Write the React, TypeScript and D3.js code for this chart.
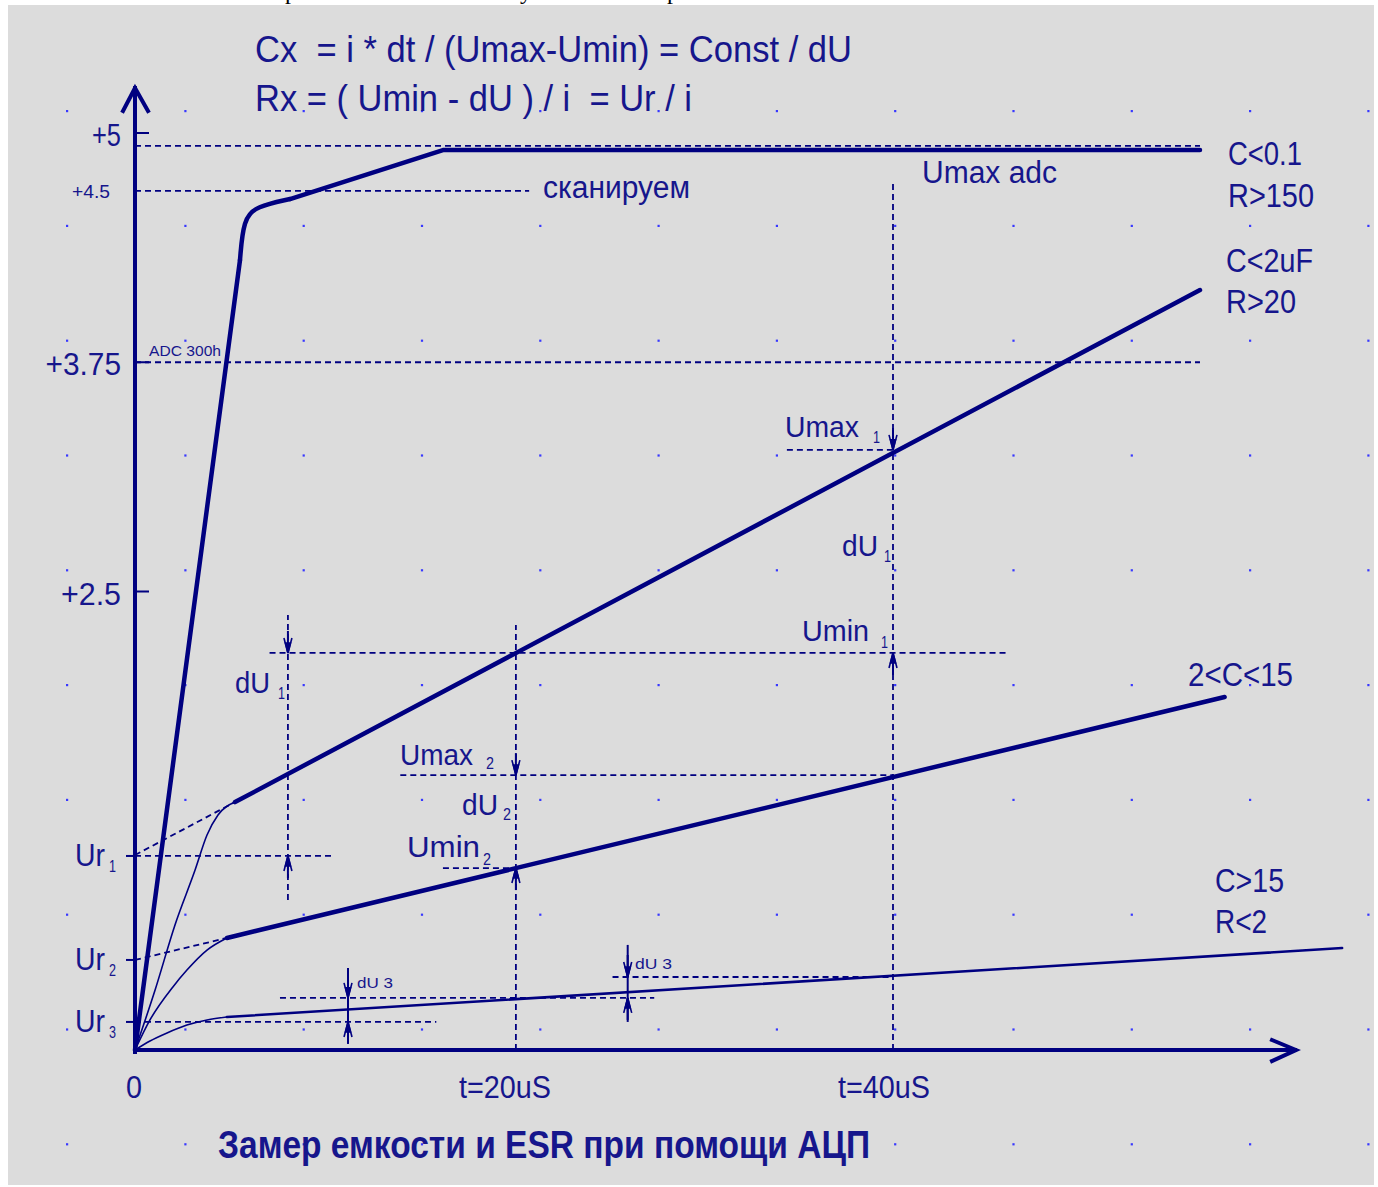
import React from "react";
import * as d3 from "d3";

// time in uS, voltage in V
const timeTicks = [0, 20, 40];
const timeLabels = ["0", "t=20uS", "t=40uS"];
const voltTicks = [5, 3.75, 2.5];
const voltLabels = ["+5", "+3.75", "+2.5"];
const urLevels = [1.058, 0.491, 0.153];
const urSubs = ["1", "2", "3"];

// C<0.1 R>150 : runs into Umax adc
const riseSmallC: [number, number][] = [[0, 0], [5.54, 4.307]];
const kneeSmallC: [number, number][] = [[5.54, 4.307], [5.72, 4.53], [6.4, 4.6], [8.18, 4.64]];
const topSmallC: [number, number][] = [[8.18, 4.64], [16.25, 4.907], [56.2, 4.907]];
// C<2uF R>20
const riseC2: [number, number][] = [
  [0, 0], [1.06, 0.327], [2.11, 0.682], [3.17, 0.981], [3.8, 1.172], [4.38, 1.281], [5.28, 1.352],
];
const lineC2: [number, number][] = [[5.28, 1.352], [56.2, 4.144]];
const extC2: [number, number][] = [[0, 1.063], [5.28, 1.352]];
// 2<C<15
const riseC15: [number, number][] = [
  [0, 0], [0.79, 0.164], [2.0, 0.344], [2.74, 0.436], [3.8, 0.545], [4.85, 0.611],
];
const lineC15: [number, number][] = [[4.85, 0.611], [57.5, 1.925]];
const extC15: [number, number][] = [[0, 0.491], [4.85, 0.611]];
// C>15 R<2
const riseBig: [number, number][] = [
  [0, 0], [0.79, 0.049], [1.69, 0.093], [2.74, 0.136], [3.8, 0.164], [4.85, 0.18],
];
const lineBig: [number, number][] = [[4.85, 0.18], [63.7, 0.556]];

// dashed horizontal guides: [level, from t, to t]
const hGuides: [number, number, number][] = [
  [4.93, 0, 56.2],
  [4.684, 0, 20.8],
  [3.75, 0, 56.2],
  [3.272, 34.4, 40],
  [2.165, 7.1, 46.1],
  [1.499, 14.0, 40],
  [1.058, 0, 10.45],
  [0.992, 16.25, 20.1],
  [0.398, 25.2, 40],
  [0.284, 7.65, 27.4],
  [0.153, 0, 15.9],
];
// dashed vertical guides: [t, from U, to U]
const vGuides: [number, number, number][] = [
  [40, 0, 4.744],
  [20.1, 0, 2.317],
  [8.07, 0.818, 2.372],
];
// solid dU3 markers: [t, from U, to U]
const dU3Marks: [number, number, number][] = [
  [11.24, 0.044, 0.447],
  [26.0, 0.153, 0.573],
];
const arrowsDown: [number, number][] = [[40, 3.272], [20.1, 1.499], [8.07, 2.165], [11.24, 0.284], [26.0, 0.398]];
const arrowsUp: [number, number][] = [[40, 2.165], [20.1, 0.992], [8.07, 1.058], [11.24, 0.153], [26.0, 0.284]];

const W = 1378;
const H = 1187;
const navy = "#000080";
const ink = "#16168c";
const font = "'Liberation Sans', Arial, sans-serif";

const x = d3.scaleLinear().domain([0, 60]).range([135, 1272]);
const y = d3.scaleLinear().domain([0, 5]).range([1050, 133]);
const line = d3.line<[number, number]>().x((d) => x(d[0])).y((d) => y(d[1]));
const smooth = d3
  .line<[number, number]>()
  .x((d) => x(d[0]))
  .y((d) => y(d[1]))
  .curve(d3.curveMonotoneX);
const knee = d3
  .line<[number, number]>()
  .x((d) => x(d[0]))
  .y((d) => y(d[1]))
  .curve(d3.curveBasis);

const T = ({ px, py, size = 32, w, bold, anchor, children }: any) => (
  <text
    x={px}
    y={py}
    fontSize={size}
    fontWeight={bold ? "bold" : "normal"}
    textAnchor={anchor || "start"}
    textLength={w}
    lengthAdjust={w ? "spacingAndGlyphs" : undefined}
    fill={ink}
    style={{ whiteSpace: "pre" }}
  >
    {children}
  </text>
);

const Arrow = ({ t, u, dir }: { t: number; u: number; dir: number }) => {
  const px = x(t);
  const py = y(u);
  return (
    <g stroke={navy} strokeWidth={1.6} fill={navy}>
      <line x1={px} y1={py - dir * 22} x2={px} y2={py} strokeWidth={2} />
      <line x1={px} y1={py} x2={px - 4} y2={py - dir * 15} fill="none" />
      <line x1={px} y1={py} x2={px + 4} y2={py - dir * 15} fill="none" />
      <path d={`M${px - 2.5},${py - dir * 10}L${px + 2.5},${py - dir * 10}L${px},${py}Z`} />
    </g>
  );
};

const App = () => {
  const dotXs = d3.range(12).map((i) => 67 + i * 118.3);
  const dotYs = d3.range(10).map((j) => 111 + j * 114.8);
  const dash = "6 4";

  return (
    <svg
      width={W}
      height={H}
      style={{ position: "absolute", left: 0, top: 0, fontFamily: font }}
    >
      <rect width={W} height={H} fill="#ffffff" />
      {/* descenders of a line of page text cut off above the picture */}
      <g fontFamily="'Liberation Serif', serif" fontSize={24} fill="#000">
        <text x={285} y={-1}>р</text>
        <text x={520} y={-1}>у</text>
        <text x={667} y={-1}>р</text>
      </g>
      <rect x={8} y={5} width={1366} height={1180} fill="#dcdcdc" />

      {/* grid dots */}
      <g fill="#3838ff">
        {dotYs.map((dy) =>
          dotXs.map((dx) => <rect key={`${dx}-${dy}`} x={dx - 1} y={dy - 1} width={2.2} height={2.2} />)
        )}
      </g>

      {/* dashed guides */}
      <g stroke={navy} strokeWidth={1.8} strokeDasharray={dash} fill="none">
        {hGuides.map(([u, t0, t1], i) => (
          <line key={i} x1={x(t0)} x2={x(t1)} y1={y(u)} y2={y(u)} />
        ))}
        {vGuides.map(([t, u0, u1], i) => (
          <line key={i} x1={x(t)} x2={x(t)} y1={y(u0)} y2={y(u1)} />
        ))}
        <path d={line(extC2) || ""} />
        <path d={line(extC15) || ""} />
      </g>

      {/* dU3 markers */}
      <g stroke={navy} strokeWidth={2}>
        {dU3Marks.map(([t, u0, u1], i) => (
          <line key={i} x1={x(t)} x2={x(t)} y1={y(u0)} y2={y(u1)} />
        ))}
      </g>
      {arrowsDown.map(([t, u], i) => (
        <Arrow key={`d${i}`} t={t} u={u} dir={1} />
      ))}
      {arrowsUp.map(([t, u], i) => (
        <Arrow key={`u${i}`} t={t} u={u} dir={-1} />
      ))}

      {/* curves */}
      <g fill="none" stroke={navy} strokeLinejoin="round" strokeLinecap="round">
        <path d={smooth(riseC2) || ""} strokeWidth={1.6} />
        <path d={smooth(riseC15) || ""} strokeWidth={1.6} />
        <path d={smooth(riseBig) || ""} strokeWidth={1.6} />
        <path d={line(lineBig) || ""} strokeWidth={2.6} />
        <path d={line(lineC15) || ""} strokeWidth={4.5} />
        <path d={line(lineC2) || ""} strokeWidth={4.5} />
        <path d={line(riseSmallC) || ""} strokeWidth={4.5} />
        <path d={knee(kneeSmallC) || ""} strokeWidth={4.5} />
        <path d={line(topSmallC) || ""} strokeWidth={4.5} />
      </g>

      {/* axes */}
      <g stroke={navy} strokeWidth={4} fill="none" strokeLinecap="square">
        <line x1={x(0)} x2={x(0)} y1={y(0) + 2} y2={88} />
        <polyline points={`${x(0) - 12},111 ${x(0)},88 ${x(0) + 13},111`} strokeLinejoin="miter" />
        <line x1={x(0)} x2={1295} y1={y(0)} y2={y(0)} />
        <polyline points={`1272,1040 1296,${y(0)} 1272,1061`} strokeLinejoin="miter" />
      </g>
      <g stroke={navy} strokeWidth={2}>
        {voltTicks.map((v) => (
          <line key={v} x1={x(0)} x2={x(0) + 14} y1={y(v)} y2={y(v)} />
        ))}
        {urLevels.map((v) => (
          <line key={v} x1={x(0) - 9} x2={x(0)} y1={y(v)} y2={y(v)} />
        ))}
      </g>

      {/* tick labels */}
      {voltTicks.map((v, i) => (
        <T key={v} px={121} py={y(v) + 13} anchor="end" size={32} w={voltLabels[i].length * 15.5 - 2}>
          {voltLabels[i]}
        </T>
      ))}
      {urLevels.map((v, i) => (
        <g key={v}>
          <T px={75} py={y(v) + 10} size={31} w={30}>Ur</T>
          <T px={109} py={y(v) + 16} size={17} w={7}>{urSubs[i]}</T>
        </g>
      ))}
      {timeTicks.map((t, i) => (
        <T key={t} px={x(t) - (t === 0 ? 1 : 9)} py={1098} anchor="middle" size={32} w={t === 0 ? 16 : 92}>
          {timeLabels[i]}
        </T>
      ))}
      <T px={72} py={198} size={19} w={38}>+4.5</T>
      <T px={149} py={356} size={15} w={72}>ADC 300h</T>

      {/* formulas and titles */}
      <T px={255} py={62} size={37} w={597}>Cx  = i * dt / (Umax-Umin) = Const / dU</T>
      <T px={255} py={111} size={37} w={437}>Rx = ( Umin - dU ) / i  = Ur / i</T>
      <T px={218} py={1158} size={38} w={652} bold>Замер емкости и ESR при помощи АЦП</T>

      {/* annotations */}
      <T px={543} py={198} size={31} w={147}>сканируем</T>
      <T px={922} py={183} size={31} w={135}>Umax adc</T>
      <T px={1228} py={165} size={33} w={74}>C&lt;0.1</T>
      <T px={1228} py={207} size={33} w={86}>R&gt;150</T>
      <T px={1226} py={272} size={33} w={87}>C&lt;2uF</T>
      <T px={1226} py={313} size={33} w={70}>R&gt;20</T>
      <T px={1188} py={686} size={33} w={105}>2&lt;C&lt;15</T>
      <T px={1215} py={892} size={33} w={69}>C&gt;15</T>
      <T px={1215} py={933} size={33} w={52}>R&lt;2</T>

      <T px={785} py={437} size={29} w={74}>Umax</T>
      <T px={873} py={443} size={17} w={7}>1</T>
      <T px={842} py={556} size={29} w={36}>dU</T>
      <T px={884} py={562} size={17} w={7}>1</T>
      <T px={802} py={641} size={29} w={67}>Umin</T>
      <T px={881} py={648} size={17} w={7}>1</T>
      <T px={235} py={693} size={29} w={35}>dU</T>
      <T px={278} py={699} size={17} w={7}>1</T>
      <T px={400} py={765} size={29} w={73}>Umax</T>
      <T px={486} py={769} size={17} w={8}>2</T>
      <T px={462} py={815} size={29} w={36}>dU</T>
      <T px={503} py={820} size={17} w={8}>2</T>
      <T px={407} py={857} size={29} w={73}>Umin</T>
      <T px={483} py={865} size={17} w={8}>2</T>
      <T px={357} py={988} size={15} w={36}>dU 3</T>
      <T px={635} py={969} size={15} w={37}>dU 3</T>
    </svg>
  );
};

export default App;
